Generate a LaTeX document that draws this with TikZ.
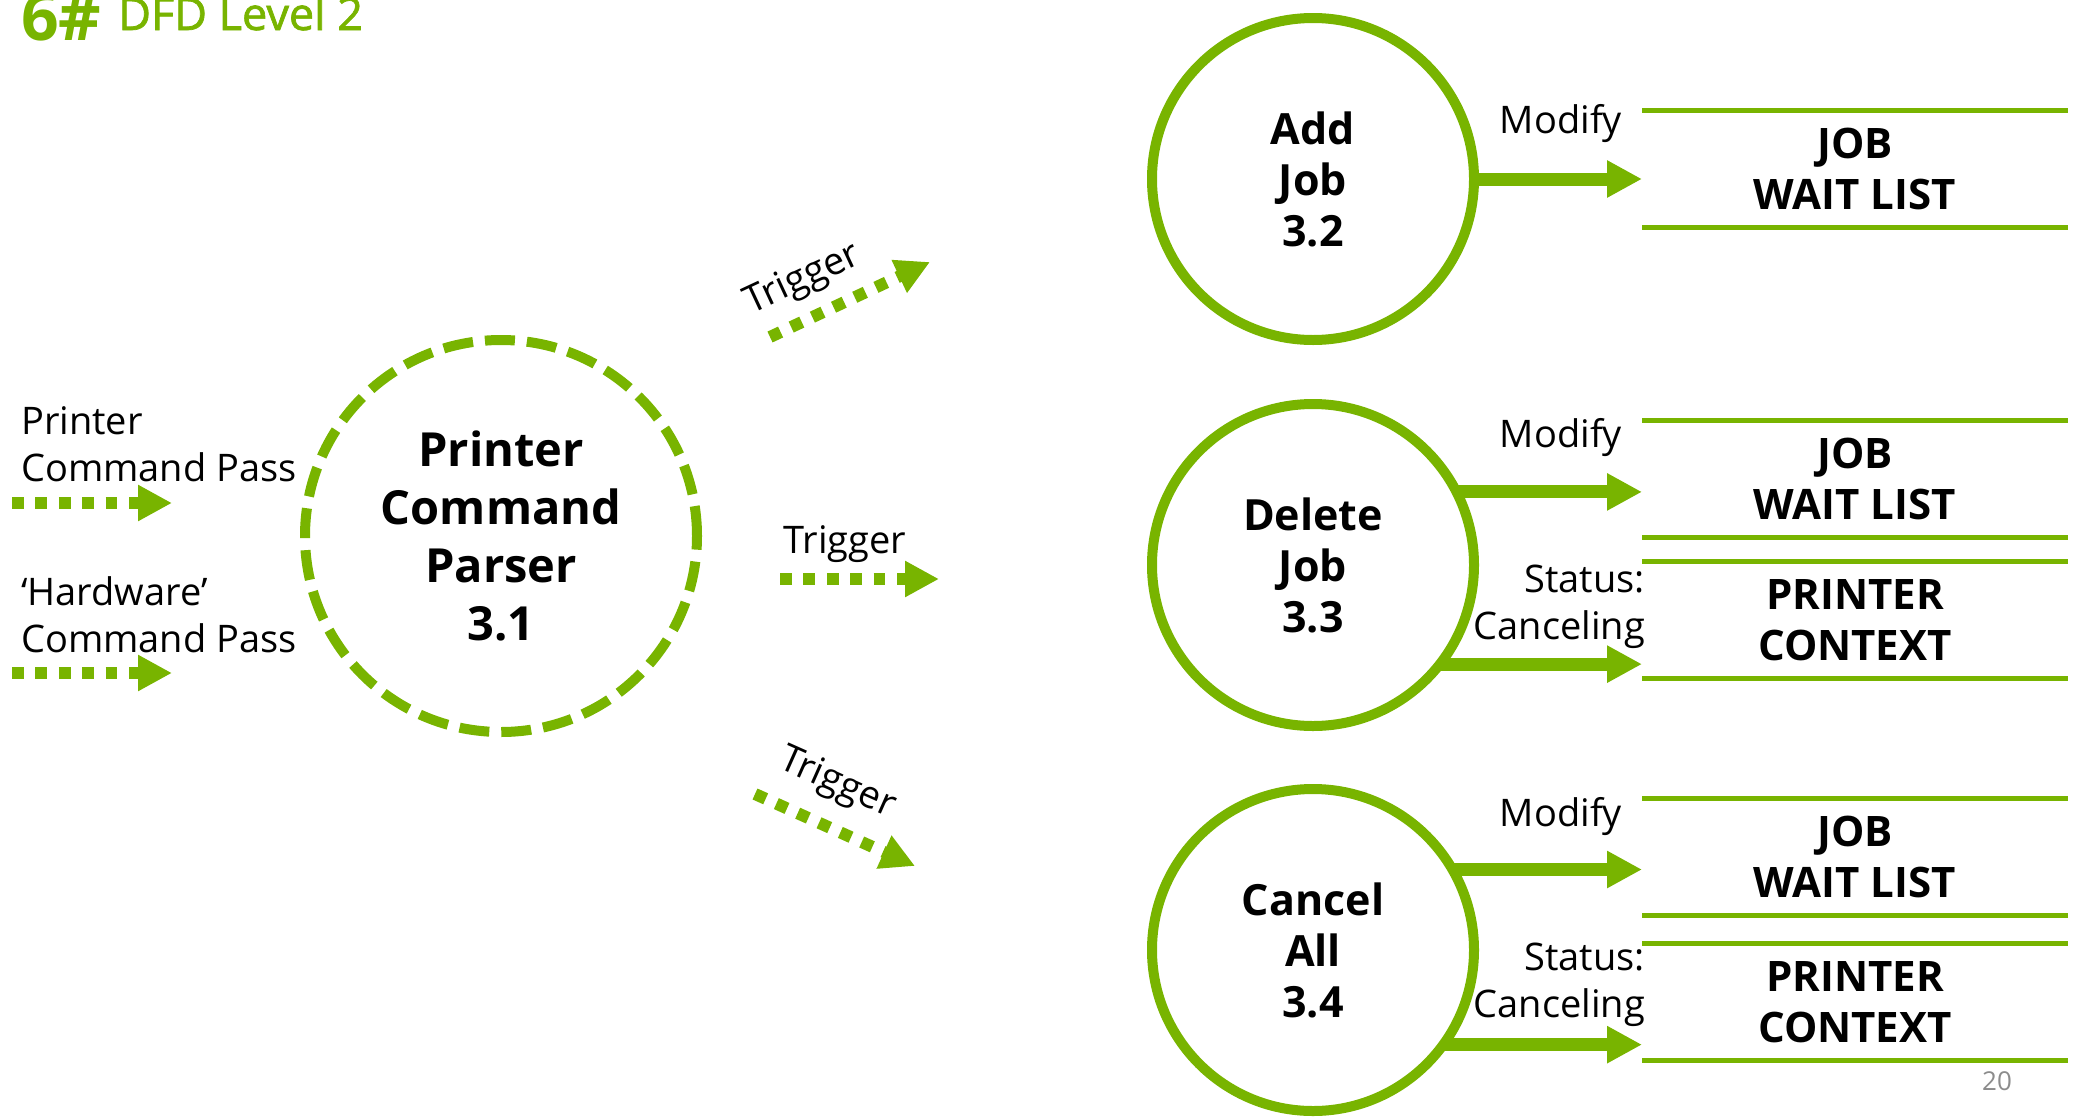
\documentclass[tikz,border=0pt]{standalone}
\usepackage{fontspec}
\setmainfont{Open Sans}
\newfontfamily\titlefont{Open Sans}[FakeBold=1.6]
\usetikzlibrary{arrows.meta}
\definecolor{dfdgreen}{HTML}{78B400}
\definecolor{pagegray}{HTML}{8C8C8C}
\begin{document}
\begin{tikzpicture}[x=1pt,y=-1pt,
  proc/.style={circle, draw=dfdgreen, line width=10pt, minimum size=322pt, inner sep=0pt, outer sep=0pt, align=center, font=\fontsize{43}{51}\selectfont\bfseries},
  parser/.style={circle, draw=dfdgreen, line width=10pt, dash pattern=on 30pt off 12pt, minimum size=392pt, inner sep=0pt, outer sep=0pt, align=center, font=\fontsize{47}{58}\selectfont\bfseries},
  store/.style={minimum width=426pt, minimum height=117pt, inner sep=0pt, outer sep=0pt, align=center, font=\fontsize{42}{51}\selectfont\bfseries},
  storeline/.style={draw=dfdgreen, line width=5pt},
  flow/.style={draw=dfdgreen, line width=13pt, -{Triangle[length=35pt,width=35pt]}},
  trig/.style={draw=dfdgreen, line width=12pt, dash pattern=on 11.7pt off 11.7pt, -{Triangle[length=34pt,width=34pt]}},
  lbl/.style={font=\fontsize{38}{47}\selectfont, inner sep=0pt},
]
\useasboundingbox (0,0) rectangle (2074,1119);

% title
\node[anchor=base west, inner sep=0pt, text=dfdgreen, font=\fontsize{66}{66}\selectfont\bfseries] (t6) at (21,40) {6\#};
\node[anchor=base west, inner sep=0pt, text=dfdgreen, font=\fontsize{45}{45}\titlefont] (tdfd) at (118,30) {DFD Level 2};

% processes
\node[parser] (pcp) at (501,536) {Printer\\Command\\Parser\\3.1};
\node[proc] (add) at (1313,179) {Add\\Job\\3.2};
\node[proc] (del) at (1313,565) {Delete\\Job\\3.3};
\node[proc] (can) at (1313,950) {Cancel\\All\\3.4};

% stores
\node[store] (st1) at (1855,169) {JOB\\WAIT LIST};
\node[store] (st2) at (1855,479) {JOB\\WAIT LIST};
\node[store] (st3) at (1855,620) {PRINTER\\CONTEXT};
\node[store] (st4) at (1855,857) {JOB\\WAIT LIST};
\node[store] (st5) at (1855,1002) {PRINTER\\CONTEXT};
\foreach \s in {st1,st2,st3,st4,st5}{
  \draw[storeline] (\s.north west) -- (\s.north east);
  \draw[storeline] (\s.south west) -- (\s.south east);
}

% input flows
\node[lbl, align=left, anchor=west] (in1) at (21,444) {Printer\\Command Pass};
\node[lbl, align=left, anchor=west] (in2) at (21,615) {‘Hardware’\\Command Pass};
\coordinate (a1s) at (12,503);
\coordinate (a1e) at (172,503);
\coordinate (a2s) at (12,673);
\coordinate (a2e) at (172,673);
\draw[trig] (a1s) -- (a1e);
\draw[trig] (a2s) -- (a2e);

% triggers
\coordinate (t1s) at (770,337);
\coordinate (t1e) at (930,262);
\coordinate (t2s) at (780,579);
\coordinate (t2e) at (939,579);
\coordinate (t3s) at (755,794);
\coordinate (t3e) at (915,866);
\draw[trig] (t1s) -- (t1e);
\draw[trig] (t2s) -- (t2e);
\draw[trig] (t3s) -- (t3e);
\node[lbl, rotate=25] (l1) at (803,280) {Trigger};
\node[lbl] (l2) at (845,544) {Trigger};
\node[lbl, rotate=-24] (l3) at (837,784) {Trigger};

% modify / status flows
\draw[flow] (add.east) -- (add.east -| st1.west);
\draw[flow] (del.27) -- (del.27 -| st2.west);
\draw[flow] (del.-38) -- (del.-38 -| st3.west);
\draw[flow] (can.30) -- (can.30 -| st4.west);
\draw[flow] (can.-36) -- (can.-36 -| st5.west);

\node[lbl] (m1) at (1561,124) {Modify};
\node[lbl] (m2) at (1561,438) {Modify};
\node[lbl] (m3) at (1561,817) {Modify};
\node[lbl, align=right, anchor=east] (s1) at (1645,607) {Status:\\Canceling};
\node[lbl, align=right, anchor=east] (s2) at (1645,985) {Status:\\Canceling};

% page number
\node[inner sep=0pt, text=pagegray, font=\fontsize{26}{26}\selectfont] (pg) at (1997,1081) {20};
\end{tikzpicture}
\end{document}
